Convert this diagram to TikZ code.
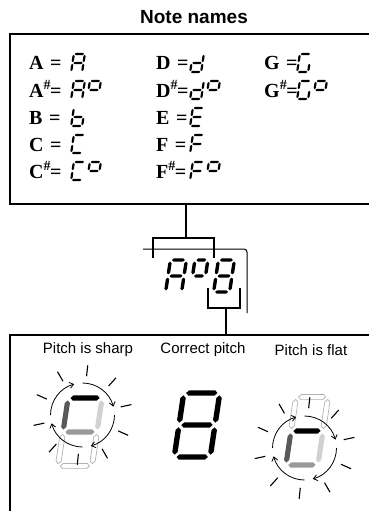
\documentclass[tikz,border=0pt]{standalone}
\usepackage{fontspec}
\setmainfont{Liberation Serif}
\setsansfont{Liberation Sans}
\usetikzlibrary{arrows.meta}
% seven-segment helpers (use \hw,\hh,\T,\G)
\newcommand\hsx[4]{\path[#1] ({#2},{#4}) -- ({#2+\T},{#4-\T}) -- ({#3-\T},{#4-\T}) -- ({#3},{#4}) -- ({#3-\T},{#4+\T}) -- ({#2+\T},{#4+\T}) -- cycle;}
\newcommand\vsx[4]{\path[#1] ({#2},{#3}) -- ({#2+\T},{#3+\T}) -- ({#2+\T},{#4-\T}) -- ({#2},{#4}) -- ({#2-\T},{#4-\T}) -- ({#2-\T},{#3+\T}) -- cycle;}
\newcommand\segA[1]{\hsx{#1}{-\hw+\G}{\hw-\G}{-\hh}}
\newcommand\segG[1]{\hsx{#1}{-\hw+\G}{\hw-\G}{0}}
\newcommand\segD[1]{\hsx{#1}{-\hw+\G}{\hw-\G}{\hh}}
\newcommand\segF[1]{\vsx{#1}{-\hw}{-\hh+\G}{-\G}}
\newcommand\segE[1]{\vsx{#1}{-\hw}{\G}{\hh-\G}}
\newcommand\segB[1]{\vsx{#1}{\hw}{-\hh+\G}{-\G}}
\newcommand\segC[1]{\vsx{#1}{\hw}{\G}{\hh-\G}}
\newcommand\gA{\segA{on}\segB{on}\segC{on}\segE{on}\segF{on}\segG{on}}
\newcommand\gb{\segF{on}\segE{on}\segG{on}\segC{on}\segD{on}}
\newcommand\gC{\segA{on}\segF{on}\segE{on}\segD{on}}
\newcommand\gd{\segB{on}\segC{on}\segG{on}\segE{on}\segD{on}}
\newcommand\gE{\segA{on}\segF{on}\segG{on}\segE{on}\segD{on}}
\newcommand\gF{\segA{on}\segF{on}\segG{on}\segE{on}}
\newcommand\gG{\segA{on}\segF{on}\segE{on}\segD{on}\segC{on}}
\newcommand\gdeg{\segA{on}\segB{on}\segF{on}\segG{on}}
\newcommand\geight{\segA{on}\segB{on}\segC{on}\segD{on}\segE{on}\segF{on}\segG{on}}
\newcommand\putg[3]{\begin{scope}[shift={(#1,#2)},xslant=.15]#3\end{scope}}
\newcommand\shp{\textsuperscript{\#}\kern-1pt}
\newcommand\nsh{\phantom{\textsuperscript{\#}}\kern-1pt}
\begin{document}
\begin{tikzpicture}[x=1pt,y=-1pt,
  on/.style={fill=black},
  ol/.style={draw=black!30,line width=.7pt,fill=white},
  lbl/.style={font=\fontsize{20}{20}\selectfont\bfseries,inner sep=0pt,anchor=base west},
  captxt/.style={font=\sffamily\fontsize{15}{15}\selectfont,inner sep=0pt},
  frame/.style={line width=2pt},
  conn/.style={line width=1.8pt},
  thinln/.style={line width=1pt},
  arcsty/.style={line width=.8pt,-{Straight Barb[length=4pt,width=6pt]}},
  ray/.style={line width=1.1pt}]
\useasboundingbox (0,0) rectangle (369,511);
\clip (0,0) rectangle (369,511);
% title
\node[font=\sffamily\bfseries\fontsize{19}{19}\selectfont,inner sep=0pt] (title) at (194,17) {Note names};
% top box
\draw[frame] (10,34) rectangle (390,204);
% table rows
\def\hw{5.5}\def\hh{9}\def\T{1.1}\def\G{0.9}
\foreach \y/\L/\s/\g/\d in {63/A/\nsh/\gA/0, 90/A/\shp/\gA/1, 117/B/\nsh/\gb/0, 144/C/\nsh/\gC/0, 171/C/\shp/\gC/1}{
  \node[lbl] (l\y) at (29,\y+7) {\L\s=};
  \putg{78}{\y}{\g}
  \ifnum\d=1 \putg{94}{\y}{\gdeg}\fi
}
\foreach \y/\L/\s/\g/\d in {63/D/\nsh/\gd/0, 90/D/\shp/\gd/1, 117/E/\nsh/\gE/0, 144/F/\nsh/\gF/0, 171/F/\shp/\gF/1}{
  \node[lbl] (m\y) at (156,\y+7) {\L\s=};
  \putg{197}{\y}{\g}
  \ifnum\d=1 \putg{213}{\y}{\gdeg}\fi
}
\foreach \y/\L/\s/\g/\d in {63/G/\nsh/\gG/0, 90/G/\shp/\gG/1}{
  \node[lbl] (n\y) at (264,\y+7) {\L\s=};
  \putg{304}{\y}{\g}
  \ifnum\d=1 \putg{320}{\y}{\gdeg}\fi
}
% connectors to middle display
\coordinate (c0) at (186,204);
\coordinate (c1) at (186,238);
\coordinate (bl) at (153,238);
\coordinate (br) at (214,238);
\coordinate (bl2) at (153,258);
\coordinate (br2) at (214,258);
\draw[conn] (c0) -- (c1);
\draw[conn] (bl2) -- (bl) -- (br) -- (br2);
\coordinate (t0) at (143,249);
\coordinate (t1) at (247,249);
\coordinate (t2) at (247,313);
\draw[thinln,rounded corners=3pt] (t0) -- (t1) -- (t2);
% middle display
\def\hw{8}\def\hh{16}\def\T{1.7}\def\G{1.6}
\putg{176}{276}{\gA}
\putg{224}{276}{\geight}
\def\hw{6.5}
\putg{199}{276}{\gdeg}
% lower bracket
\coordinate (d1) at (208,288);
\coordinate (d2) at (208,308);
\coordinate (d3) at (240,308);
\coordinate (d4) at (240,288);
\coordinate (d5) at (226,308);
\coordinate (d6) at (226,335);
\draw[conn] (d1) -- (d2) -- (d3) -- (d4);
\draw[conn] (d5) -- (d6);
% bottom box
\draw[frame] (10,520) -- (10,335) -- (390,335);
% captions
\node[captxt] (sharp) at (88,350) {Pitch is sharp};
\node[captxt] (correct) at (203,350) {Correct pitch};
\node[captxt] (flat) at (311,350) {Pitch is flat};
% correct pitch 8
\def\hw{18}\def\hh{32}\def\T{2.7}\def\G{2.3}
\putg{197}{425}{\geight}
% sharp display
\def\hw{17}\def\hh{34}\def\T{2.6}\def\G{2.4}
\begin{scope}[shift={(80,432)},xslant=.15]
  \segE{ol}\segC{ol}\segD{ol}
  \segA{fill=black}\segF{fill=black!65}\segB{fill=black!18}\segG{fill=black!40}
\end{scope}
\coordinate (lc) at (82.5,415);
\foreach \s in {180,270,0,90}
  \draw[arcsty] ([shift={(\s:32)}]lc) arc[start angle=\s,delta angle=75,radius=32];
\foreach \a in {24,60,...,348}
  \draw[ray] ([shift={(\a:39)}]lc) -- ([shift={(\a:50)}]lc);
% flat display
\def\hw{16}
\begin{scope}[shift={(307,431)},xslant=.15]
  \segA{ol}\segF{ol}\segB{ol}
  \segG{fill=black}\segE{fill=black!65}\segC{fill=black!18}\segD{fill=black!40}
\end{scope}
\coordinate (rc) at (304.5,448);
\foreach \s in {180,270,0,90}
  \draw[arcsty] ([shift={(\s:32)}]rc) arc[start angle=\s,delta angle=75,radius=32];
\foreach \a in {24,60,...,348}
  \draw[ray] ([shift={(\a:40)}]rc) -- ([shift={(\a:51)}]rc);
\end{tikzpicture}
\end{document}
